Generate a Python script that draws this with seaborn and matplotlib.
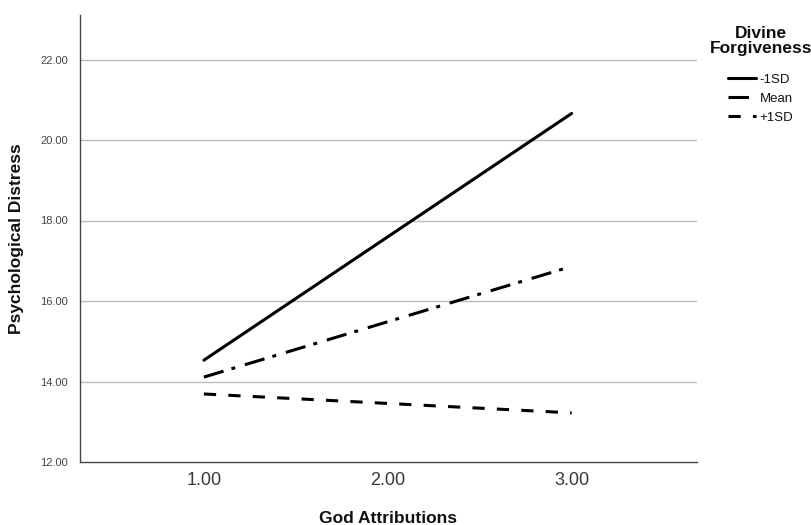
import matplotlib
matplotlib.use("Agg")
import matplotlib.pyplot as plt
import seaborn as sns
import pandas as pd
from matplotlib.lines import Line2D

x_vals = [1.0, 3.0]
minus_sd = [14.53, 20.66]
mean_vals = [14.11, 16.86]
plus_sd = [13.69, 13.22]
groups = ["-1SD", "Mean", "+1SD"]
x_ticks = [1.0, 2.0, 3.0]
y_ticks = [12, 14, 16, 18, 20, 22]

df = pd.DataFrame({
    "x": x_vals * 3,
    "y": minus_sd + mean_vals + plus_sd,
    "g": [groups[0]] * 2 + [groups[1]] * 2 + [groups[2]] * 2,
})

sns.set_style("white")
plt.rcParams["font.family"] = ["Liberation Sans", "DejaVu Sans"]
plt.rcParams["text.color"] = "#111111"
plt.rcParams["axes.labelcolor"] = "#111111"

fig = plt.figure(figsize=(8.12, 5.25), dpi=100)
ax = fig.add_axes([0.0985, 0.12, 0.7595, 0.851])

dash_map = {"-1SD": "", "Mean": (6.7, 2.7, 1.3, 3.3), "+1SD": (4, 4)}
sns.lineplot(data=df, x="x", y="y", style="g", dashes=dash_map, color="black",
             linewidth=2.2, ax=ax, legend=False, estimator=None)

ax.set_xlim(0.326, 3.68)
ax.set_ylim(12, 23.1)
ax.set_xticks(x_ticks)
ax.set_xticklabels([f"{v:.2f}" for v in x_ticks], fontsize=13, color="#3a3a3a")
ax.set_yticks(y_ticks)
ax.set_yticklabels([f"{v:.2f}" for v in y_ticks], fontsize=8, color="#444444")
ax.tick_params(axis="x", length=0, pad=7)
ax.tick_params(axis="y", length=0, pad=8.5)
for yv in y_ticks[1:]:
    ax.axhline(yv, color="#bbbbbb", linewidth=1.0, zorder=0)
for s in ["top", "right"]:
    ax.spines[s].set_visible(False)
for s in ["left", "bottom"]:
    ax.spines[s].set_color("#444444")
    ax.spines[s].set_linewidth(1.0)

ax.set_xlabel("God Attributions", fontsize=12.5, fontweight="bold", labelpad=16)
ax.set_ylabel("Psychological Distress", fontsize=12.5, fontweight="bold", labelpad=12)

handles = [
    Line2D([0], [0], color="black", lw=2.2, linestyle="-"),
    Line2D([0], [0], color="black", lw=2.2, linestyle=(0, (6.7, 2.7, 1.3, 3.3))),
    Line2D([0], [0], color="black", lw=2.2, linestyle=(0, (4, 4))),
]
leg = fig.legend(handles, groups, title="Divine\nForgiveness", loc="upper center",
                 bbox_to_anchor=(0.937, 0.971), frameon=False, fontsize=9.5,
                 handlelength=2.1, handletextpad=0.3, labelspacing=0.5,
                 borderpad=0.3,
                 title_fontproperties={"weight": "bold", "size": 12.5})
leg.get_title().set_multialignment("center")
leg.get_title().set_linespacing(1.0)
leg._legend_box.align = "center"
leg._legend_box.sep = 13

fig.savefig("out.png", dpi=100)
